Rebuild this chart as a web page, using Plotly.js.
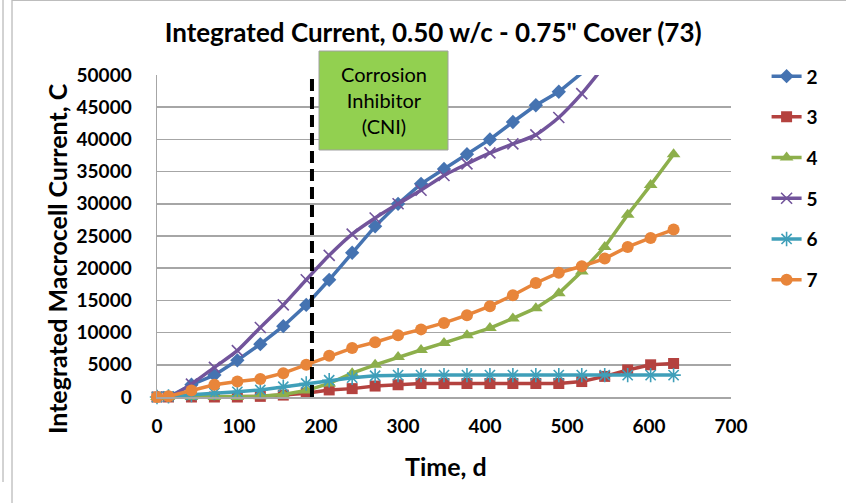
<!DOCTYPE html>
<html>
<head>
<meta charset="utf-8">
<script src="https://cdn.plot.ly/plotly-3.0.1.min.js"></script>
<style>html,body{margin:0;padding:0;background:#fff;}#chart{width:846px;height:503px;}</style>
</head>
<body>
<div id="chart"></div>
<script>
// ---- data ----
const days = [0,14,42,70,98,126,154,182,210,238,266,294,322,350,378,406,434,462,490,518,546,574,602,630];
const seriesNames = ["2","3","4","5","6","7"];
const s2 = [0,0,1900,3400,5700,8200,11000,14300,18200,22400,26500,30000,33100,35400,37700,40000,42700,45300,47400,50300];
const s3 = [0,0,0,0,0,100,300,600,1100,1300,1700,1900,2100,2100,2100,2100,2100,2100,2100,2400,3200,4200,5000,5200];
const s4 = [0,0,0,0,0,100,400,1000,2100,3700,5000,6200,7300,8400,9600,10700,12200,13800,16100,19500,23300,28300,32900,37700];
const s5 = [0,0,2000,4600,7200,10800,14300,18200,22000,25300,27800,30000,32100,34400,36200,37900,39300,40700,43400,47100,51500];
const s6 = [0,100,300,600,800,1100,1600,2100,2600,3000,3300,3400,3400,3400,3400,3400,3400,3400,3400,3400,3400,3400,3400,3400];
const s7 = [0,100,1000,1900,2400,2800,3700,5000,6400,7600,8500,9600,10500,11500,12700,14100,15800,17700,19300,20300,21500,23300,24700,26000];
const cniDay = 189;
const xTicks = [0,100,200,300,400,500,600,700];
const yTicks = [0,5000,10000,15000,20000,25000,30000,35000,40000,45000,50000];

const values = [s2,s3,s4,s5,s6,s7];
const colors = ["#4573B1","#B4423F","#8DAF4B","#72549B","#3F9FB9","#E8853A"];
const symbols = ["diamond","square","triangle-up","x-thin-open","asterisk-open","circle"];
const sizes = [11,11,12,11,12,12];
const FONT = "Lato, 'Open Sans', sans-serif";

const traces = values.map((v,i)=>({
  type:"scatter", mode:"lines+markers", name:seriesNames[i],
  x: days.slice(0, v.length), y: v,
  line:{color:colors[i], width:3.5, shape:(i===3?"spline":"linear"), smoothing:0.6},
  marker:{symbol:symbols[i], size:sizes[i], color:colors[i], line:{color:colors[i], width:(i===3||i===4)?1.6:0}},
  cliponaxis: (i===0||i===3),
  legendgroup:"g"+i
}));

const layout = {
  width:846, height:503,
  margin:{l:157, r:115, t:75, b:106},
  paper_bgcolor:"#fff", plot_bgcolor:"#fff",
  font:{family:FONT, color:"#000"},
  title:{text:"<b>Integrated Current, 0.50 w/c - 0.75\" Cover (73)</b>", font:{size:26, family:FONT, color:"#000"},
         x:0.512, xanchor:"center", y:1-33/503, yanchor:"middle", yref:"container", xref:"container"},
  xaxis:{range:[0,700], tickvals:xTicks, ticktext:xTicks.map(String), showgrid:false, zeroline:false,
         showline:true, linecolor:"#A6A6A6", linewidth:1.5, ticks:"",
         tickfont:{size:19, family:FONT, weight:"bold"}, ticklabelstandoff:12},
  yaxis:{range:[0,50000], tickvals:yTicks, ticktext:yTicks.map(String), showgrid:true, gridcolor:"#A6A6A6", gridwidth:1.5,
         zeroline:false, showline:true, linecolor:"#A6A6A6", linewidth:1.5, ticks:"",
         tickfont:{size:19, family:FONT, weight:"bold"}, ticklabelstandoff:20},
  showlegend:true,
  legend:{x:1.062, xanchor:"left", y:1.055, yanchor:"top", font:{size:19, family:FONT, weight:"bold"},
          traceorder:"grouped", tracegroupgap:13, bgcolor:"rgba(0,0,0,0)", itemwidth:30},
  shapes:[
    {type:"line", xref:"x", yref:"paper", x0:cniDay, x1:cniDay, y0:0, y1:1, line:{color:"#000", width:4, dash:"12px,6px"}},
    {type:"rect", xref:"paper", yref:"paper", x0:(319-157)/574, x1:(448-157)/574, y0:(397-150)/322, y1:(397-51)/322,
     fillcolor:"#92D050", line:{color:"#A0A0A0", width:1}},
    {type:"line", xref:"paper", yref:"paper", x0:(12-157)/574, x1:(12-157)/574, y0:-106/322, y1:(397)/322, line:{color:"#A6A6A6", width:1}},
    {type:"line", xref:"paper", yref:"paper", x0:(12-157)/574, x1:(846-157)/574, y0:(397-0.5)/322, y1:(397-0.5)/322, line:{color:"#BDBDBD", width:1}},
    {type:"line", xref:"paper", yref:"paper", x0:(3-157)/574, x1:(3-157)/574, y0:(397-482)/322, y1:(397)/322, line:{color:"#A6A6A6", width:1}}
  ],
  annotations:[
    {text:"Corrosion<br>Inhibitor<br>(CNI)", xref:"paper", yref:"paper", x:(383.5-157)/574, y:(397-100)/322,
     xanchor:"center", yanchor:"middle", showarrow:false, font:{size:20, family:FONT, color:"#000"}},
    {text:"<b>Integrated Macrocell Current, C</b>", xref:"paper", yref:"paper", x:(57-157)/574, y:(397-259)/322,
     xanchor:"center", yanchor:"middle", textangle:-90, showarrow:false, font:{size:25, family:FONT, color:"#000"}},
    {text:"<b>Time, d</b>", xref:"paper", yref:"paper", x:(446-157)/574, y:(397-466)/322,
     xanchor:"center", yanchor:"middle", showarrow:false, font:{size:25, family:FONT, color:"#000"}}
  ]
};
Plotly.newPlot("chart", traces, layout, {staticPlot:true, displayModeBar:false});
</script>
</body>
</html>
